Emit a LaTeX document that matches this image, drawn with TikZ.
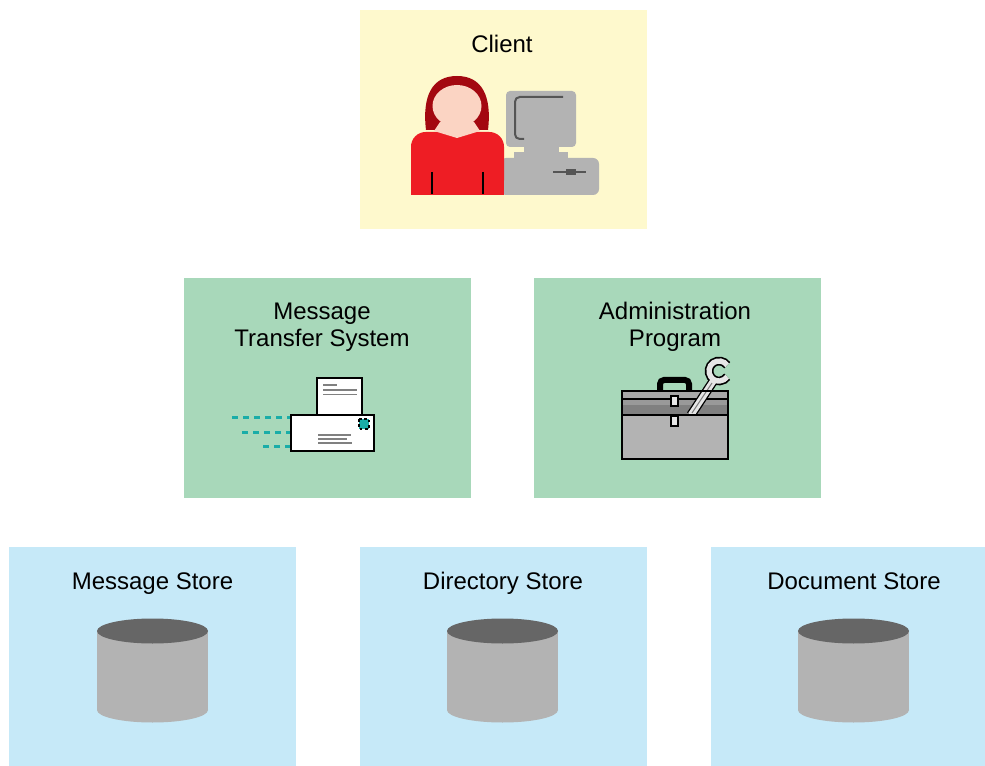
\documentclass[tikz,border=0pt]{standalone}
\usepackage{fontspec}
\setmainfont{Liberation Sans}
\begin{document}
\definecolor{clientbg}{HTML}{FEF9CD}
\definecolor{servicebg}{HTML}{A8D8BA}
\definecolor{storebg}{HTML}{C6E9F8}
\definecolor{shirt}{HTML}{EE1D24}
\definecolor{hair}{HTML}{A30810}
\definecolor{skin}{HTML}{FBD4C3}
\definecolor{device}{HTML}{B3B3B3}
\definecolor{devicedark}{HTML}{555555}
\definecolor{disktop}{HTML}{666666}
\definecolor{mailteal}{HTML}{1AADA8}
\definecolor{lidA}{HTML}{A8A8A8}
\definecolor{lidB}{HTML}{999999}
\definecolor{lidC}{HTML}{808080}
\definecolor{latch}{HTML}{E6E6E6}
\begin{tikzpicture}[x=0.75pt,y=-0.75pt,
  panel/.style={minimum width=215.25pt,minimum height=164.25pt,inner sep=0pt,outer sep=0pt},
  label/.style={font=\fontsize{18}{20.25}\selectfont,inner sep=0pt,align=center,anchor=base},
  outline/.style={draw=black,line width=1.5pt},
  textline/.style={draw=gray,line width=1.2pt},
  trail/.style={draw=mailteal,line width=2.25pt,dash pattern=on 4.5pt off 3.75pt}]
\clip (0,0) rectangle (985,766);
\fill[white] (0,0) rectangle (985,766);

% panels
\node[panel,fill=clientbg]  (client) at (503.5,119.5) {};
\node[panel,fill=servicebg] (mts)    at (327.5,388) {};
\node[panel,fill=servicebg] (admin)  at (677.5,388) {};
\node[panel,fill=storebg]   (ms)     at (152.5,656.5) {};
\node[panel,fill=storebg]   (dir)    at (503.5,656.5) {};
\node[panel,fill=storebg]   (doc)    at (854.5,656.5) {};

% labels (placed by the baseline of their last line)
\node[label] (clientlabel) at (502,52.5) {Client};
\node[label] (mtslabel)    at (322,346.5) {Message\\Transfer System};
\node[label] (adminlabel)  at (675,346.5) {Administration\\Program};
\node[label] (mslabel)     at (152.5,589.5) {Message Store};
\node[label] (dirlabel)    at (503,589.5) {Directory Store};
\node[label] (doclabel)    at (854,589.5) {Document Store};

% ---- client: computer ----
\fill[device,rounded corners=4.5pt] (500,158) rectangle (599,195);
\fill[device] (514,152) rectangle (568,159);
\fill[device] (524,145) rectangle (559,153);
\fill[device,rounded corners=3pt] (506,91) rectangle (576,147);
\draw[devicedark,line width=1.5pt,rounded corners=3.5pt] (563,97) -- (515,97) -- (515,139) -- (524,139);
\draw[devicedark,line width=1.2pt] (553,172) -- (586,172);
\fill[devicedark] (566,169.5) rectangle (576,175);

% ---- client: person ----
\fill[hair] (426,130) .. controls (422,96) and (432,76) .. (457,76)
            .. controls (482,76) and (492,96) .. (488,130) -- cycle;
\fill[shirt,rounded corners=11pt] (411,132) rectangle (504,195);
\fill[shirt] (411,160) rectangle (504,195);
\fill[skin] (440,122) -- (474,122) -- (480,131) -- (457,138) -- (434,131) -- cycle;
\fill[skin] (457,106) ellipse [x radius=24.5, y radius=21];
\draw[black,line width=1.5pt] (432,172) -- (432,194);
\draw[black,line width=1.5pt] (483,172) -- (483,194);

% ---- message transfer: mail ----
\draw[trail] (232,417) -- (291,417);
\draw[trail] (242,432) -- (291,432);
\draw[trail] (263,446) -- (291,446);
\filldraw[fill=white,outline] (317,378) rectangle (362,415);
\draw[textline] (323,385) -- (337,385);
\draw[textline] (323,390) -- (357,390);
\draw[textline] (323,394.5) -- (357,394.5);
\filldraw[fill=white,outline] (291,415) rectangle (374,451);
\filldraw[fill=mailteal,draw=black,line width=1.5pt,dash pattern=on 2pt off 2pt] (359,419) rectangle (369,429);
\draw[textline] (318,435) -- (351,435);
\draw[textline] (318,439) -- (347,439);
\draw[textline] (318,443) -- (352,443);

% ---- administration: toolbox ----
\draw[black,line width=4.5pt,rounded corners=3pt] (660,391) -- (660,380) -- (689,380) -- (689,391);
\fill[lidA] (622,391) rectangle (728,399);
\fill[lidB] (622,399) rectangle (728,405);
\fill[lidC] (622,405) rectangle (728,415);
\draw[black,line width=1pt] (622,399) -- (728,399);
% wrench: handle and open-ended head
\draw[black,line width=7pt] (691,415) -- (714,380);
\draw[black,line width=6.5pt] (719,371) ++(-35:10) arc[start angle=-35,end angle=-325,radius=10];
\draw[latch,line width=5pt] (691,415) -- (714,380);
\draw[latch,line width=4pt] (719,371) ++(-35:10) arc[start angle=-35,end angle=-325,radius=10];
\draw[gray,line width=0.8pt] (692,413) -- (712,383);
\draw[outline,fill=none] (622,391) rectangle (728,415);
\filldraw[fill=device,outline] (622,415) rectangle (728,459);
\filldraw[fill=latch,draw=black,line width=1pt] (671,396) rectangle (678,406);
\filldraw[fill=latch,draw=black,line width=1pt] (671,416) rectangle (678,426);

% ---- stores: disks ----
\foreach \cx in {152.5,502.5,853.5}{
  \fill[device] (\cx,710) ellipse [x radius=55.5, y radius=12.5];
  \fill[device] (\cx-55.5,631) rectangle (\cx+55.5,710);
  \fill[disktop] (\cx,631) ellipse [x radius=55.5, y radius=12.5];
}
\end{tikzpicture}
\end{document}
